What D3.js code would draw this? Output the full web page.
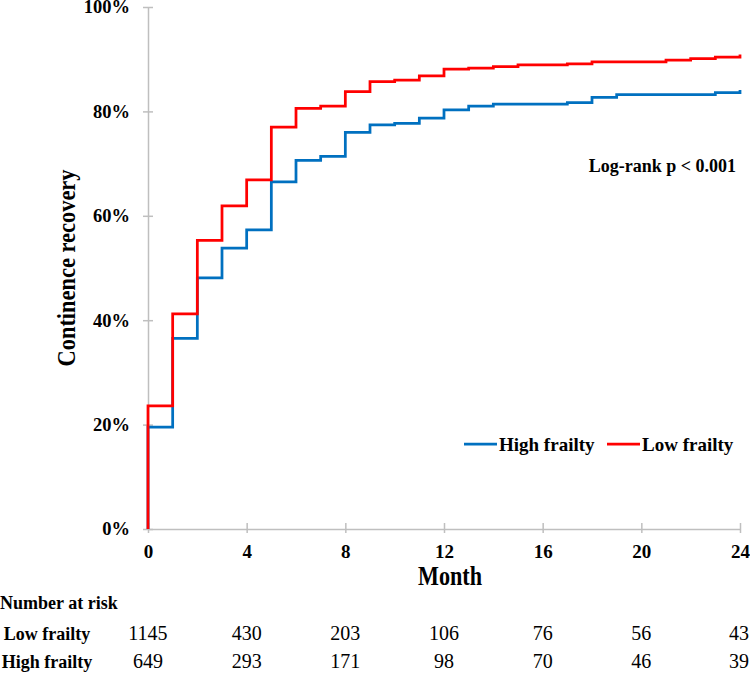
<!DOCTYPE html>
<html>
<head>
<meta charset="utf-8">
<script src="https://cdn.jsdelivr.net/npm/d3@7"></script>
<style>
  html, body { margin: 0; padding: 0; background: #fff; }
  svg { display: block; font-family: "Liberation Serif", "Times New Roman", serif; }
</style>
</head>
<body>
<svg class="main" width="750" height="674"></svg>
<script>
(function () {
  'use strict';

  // months of follow-up, one step per month
  const months = [0, 1, 2, 3, 4, 5, 6, 7, 8, 9, 10, 11, 12, 13, 14, 15, 16, 17, 18, 19, 20, 21, 22, 23, 24];

  // cumulative continence recovery (%)
  const lowFrailty = [23.6, 41.2, 55.3, 61.9, 66.9, 77.0, 80.6, 81.0, 83.8, 85.7, 86.0, 86.8, 88.1,
    88.3, 88.6, 88.9, 88.9, 89.1, 89.5, 89.5, 89.5, 89.8, 90.1, 90.4, 90.9];
  const highFrailty = [19.5, 36.5, 48.1, 53.8, 57.3, 66.5, 70.6, 71.4, 76.0, 77.4, 77.7, 78.7, 80.3,
    81.0, 81.4, 81.4, 81.4, 81.7, 82.7, 83.2, 83.2, 83.2, 83.2, 83.6, 84.1];

  const xTicks = [0, 4, 8, 12, 16, 20, 24];
  const yTicks = [0, 0.2, 0.4, 0.6, 0.8, 1];

  // number at risk table
  const riskMonths = [0, 4, 8, 12, 16, 20, 24];
  const riskLow = [1145, 430, 203, 106, 76, 56, 43];
  const riskHigh = [649, 293, 171, 98, 70, 46, 39];

  const series = [
    { name: "High frailty", color: "#0070c0", values: highFrailty },
    { name: "Low frailty", color: "#ff0000", values: lowFrailty }
  ];

  const axisColor = "#bfbfbf";
  const svg = d3.select("svg.main");

  const x = d3.scaleLinear().domain([0, 24]).range([148, 740]);
  const y = d3.scaleLinear().domain([0, 1]).range([529, 7]);

  // y axis
  const gy = svg.append("g")
    .attr("transform", `translate(${x(0)},0)`)
    .call(d3.axisLeft(y)
      .tickValues(yTicks)
      .tickFormat(d3.format(".0%"))
      .tickSize(5)
      .tickSizeOuter(0)
      .tickPadding(13));
  gy.select(".domain").attr("stroke", axisColor).attr("stroke-width", 1.5);
  gy.selectAll(".tick line").attr("x1", 5).attr("stroke", axisColor).attr("stroke-width", 1.5);
  gy.selectAll(".tick text")
    .attr("font-family", "Liberation Serif, Times New Roman, serif")
    .attr("font-size", 18.5)
    .attr("font-weight", "bold")
    .attr("fill", "#000");

  // x axis
  const gx = svg.append("g")
    .attr("transform", `translate(0,${y(0)})`)
    .call(d3.axisBottom(x)
      .tickValues(xTicks)
      .tickFormat(d3.format("d"))
      .tickSize(4)
      .tickSizeOuter(0));
  gx.select(".domain").attr("stroke", axisColor).attr("stroke-width", 1.5);
  gx.selectAll(".tick line").attr("y1", -6).attr("stroke", axisColor).attr("stroke-width", 1.5);
  gx.selectAll(".tick text")
    .attr("y", 29)
    .attr("dy", null)
    .attr("font-family", "Liberation Serif, Times New Roman, serif")
    .attr("font-size", 19)
    .attr("font-weight", "bold")
    .attr("fill", "#000");

  // axis titles
  svg.append("text")
    .attr("transform", `translate(75,${(y(0) + y(1)) / 2}) rotate(-90)`)
    .attr("text-anchor", "middle")
    .attr("font-size", 26)
    .attr("font-weight", "bold")
    .attr("textLength", 197)
    .attr("lengthAdjust", "spacingAndGlyphs")
    .text("Continence recovery");

  svg.append("text")
    .attr("x", 450)
    .attr("y", 585)
    .attr("text-anchor", "middle")
    .attr("font-size", 28)
    .attr("font-weight", "bold")
    .attr("textLength", 64)
    .attr("lengthAdjust", "spacingAndGlyphs")
    .text("Month");

  // step curves
  const line = d3.line()
    .x(d => x(d[0]))
    .y(d => y(d[1] / 100))
    .curve(d3.curveStepAfter);

  svg.append("g")
    .selectAll("path")
    .data(series)
    .join("path")
    .attr("d", s => line([[0, 0]].concat(months.map((m, i) => [m, s.values[i]]))))
    .attr("fill", "none")
    .attr("stroke", s => s.color)
    .attr("stroke-width", 2.75);

  // log-rank annotation
  svg.append("text")
    .attr("x", 736)
    .attr("y", 172)
    .attr("text-anchor", "end")
    .attr("font-size", 18)
    .attr("font-weight", "bold")
    .text("Log-rank p < 0.001");

  // legend
  const legendPos = [464, 607];
  const legend = svg.append("g")
    .selectAll("g")
    .data(series)
    .join("g")
    .attr("transform", (s, i) => `translate(${legendPos[i]},444)`);
  legend.append("line")
    .attr("x2", 33)
    .attr("stroke", s => s.color)
    .attr("stroke-width", 2.75);
  legend.append("text")
    .attr("x", 35)
    .attr("y", 6.5)
    .attr("font-size", 19)
    .attr("font-weight", "bold")
    .text(s => s.name);

  // number at risk table
  svg.append("text")
    .attr("x", 0)
    .attr("y", 609)
    .attr("font-size", 18)
    .attr("font-weight", "bold")
    .text("Number at risk");

  const rows = [
    { label: "Low frailty", values: riskLow, y: 640 },
    { label: "High frailty", values: riskHigh, y: 668 }
  ];

  rows.forEach(r => {
    svg.append("text")
      .attr("x", 47)
      .attr("y", r.y)
      .attr("text-anchor", "middle")
      .attr("font-size", 18)
      .attr("font-weight", "bold")
      .text(r.label);

    svg.append("g")
      .selectAll("text")
      .data(r.values)
      .join("text")
      .attr("x", (d, i) => Math.min(x(riskMonths[i]), 739))
      .attr("y", r.y)
      .attr("text-anchor", "middle")
      .attr("font-size", 20)
      .text(d => d);
  });
}());
</script>
</body>
</html>
